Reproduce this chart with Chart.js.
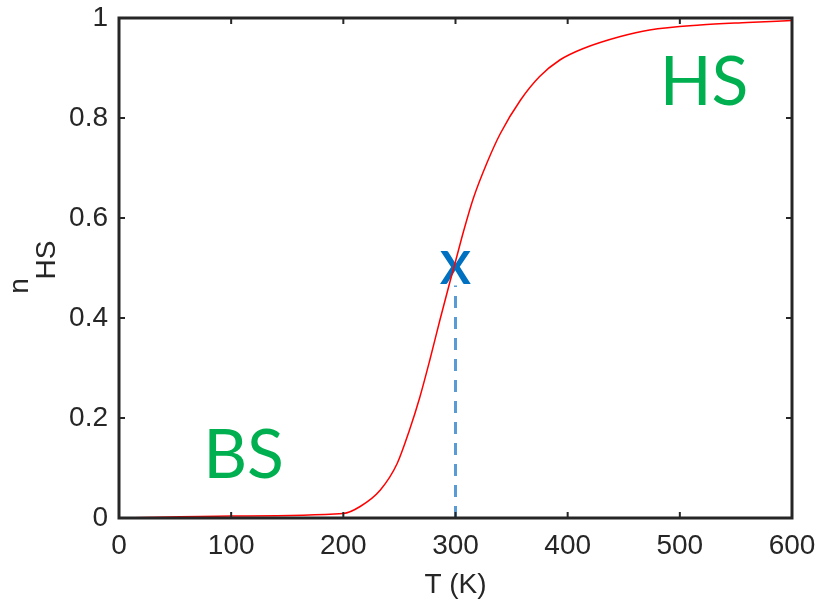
<!DOCTYPE html>
<html>
<head>
<meta charset="utf-8">
<script src="https://cdn.jsdelivr.net/npm/chart.js@4"></script>
<style>
  html, body { margin: 0; padding: 0; background: #fff; }
  #wrap { width: 815px; height: 602px; }
</style>
</head>
<body>
<div id="wrap"><canvas id="graficoNhs" width="815" height="602"></canvas></div>
<script>
// values
const temperaturas = [0, 100, 200, 215, 233, 248, 259, 268, 277, 286, 295, 300, 307, 316, 328, 340, 358, 375, 393, 414, 447, 473, 518, 560, 600];
const fracaoHS = [0, 0.004, 0.009, 0.023, 0.056, 0.109, 0.176, 0.24, 0.315, 0.395, 0.472, 0.513, 0.572, 0.64, 0.71, 0.769, 0.836, 0.883, 0.916, 0.939, 0.963, 0.976, 0.986, 0.991, 0.995];
const tracejadoT = [300, 300];
const tracejadoN = [0, 0.465];
const marcador = { t: 300, n: 0.5, texto: 'X' };
const rotulos = [
    { texto: 'BS', t: 75, n: 0.08 },
    { texto: 'HS', t: 482, n: 0.826 }
];
const tituloX = 'T (K)';
const tituloY = ['n', 'HS'];

const corTexto = '#262626';
const familiaEixo = '"Liberation Sans", Arial, sans-serif';

const moldura = {
    id: 'moldura',
    beforeDatasetsDraw(chart) {
        const c = chart.ctx, x = chart.scales.x, y = chart.scales.y;
        c.save();
        c.fillStyle = '#0070c0';
        c.font = 'bold 46px Lato, "Open Sans", sans-serif';
        c.textAlign = 'center';
        c.textBaseline = 'alphabetic';
        c.fillText(marcador.texto, x.getPixelForValue(marcador.t), y.getPixelForValue(marcador.n) + 16);
        c.restore();
    },
    afterDatasetsDraw(chart) {
        const c = chart.ctx, a = chart.chartArea, x = chart.scales.x, y = chart.scales.y;
        c.save();
        // rotulos BS / HS
        c.fillStyle = '#00b050';
        c.font = '68px Lato, "Open Sans", sans-serif';
        c.textBaseline = 'alphabetic';
        rotulos.forEach(r => c.fillText(r.texto, x.getPixelForValue(r.t), y.getPixelForValue(r.n)));

        // ticks para dentro
        c.strokeStyle = corTexto;
        c.lineWidth = 2;
        c.beginPath();
        x.ticks.forEach(t => {
            const px = x.getPixelForValue(t.value);
            c.moveTo(px, a.bottom); c.lineTo(px, a.bottom - 6);
            c.moveTo(px, a.top); c.lineTo(px, a.top + 6);
        });
        y.ticks.forEach(t => {
            const py = y.getPixelForValue(t.value);
            c.moveTo(a.left, py); c.lineTo(a.left + 6, py);
            c.moveTo(a.right, py); c.lineTo(a.right - 6, py);
        });
        c.stroke();

        // moldura
        c.lineWidth = 3;
        c.strokeRect(a.left, a.top, a.right - a.left, a.bottom - a.top);

        // titulos
        c.fillStyle = corTexto;
        c.font = '28px ' + familiaEixo;
        c.textAlign = 'center';
        c.fillText(tituloX, (a.left + a.right) / 2, 593);
        c.translate(28, 286);
        c.rotate(-Math.PI / 2);
        c.fillText(tituloY[0], 0, 0);
        c.fillText(tituloY[1], 26, 27);
        c.restore();
    }
};

function semPadding(s) {
    s.paddingLeft = 0; s.paddingRight = 0; s.paddingTop = 0; s.paddingBottom = 0;
}

new Chart(document.getElementById('graficoNhs').getContext('2d'), {
    type: 'line',
    data: {
        datasets: [
            {
                data: tracejadoT.map((t, i) => ({ x: t, y: tracejadoN[i] })),
                borderColor: '#5b9bd5',
                borderWidth: 3,
                borderDash: [12, 9],
                pointRadius: 0
            },
            {
                data: temperaturas.map((t, i) => ({ x: t, y: fracaoHS[i] })),
                borderColor: '#ff0000',
                borderWidth: 1.5,
                cubicInterpolationMode: 'monotone',
                pointRadius: 0
            }
        ]
    },
    options: {
        responsive: false,
        animation: false,
        layout: { padding: { top: 18, right: 23, left: 0, bottom: 0 } },
        plugins: { legend: { display: false }, tooltip: { enabled: false } },
        scales: {
            x: {
                type: 'linear', min: 0, max: 600,
                grid: { display: false, drawTicks: false },
                border: { display: false },
                ticks: { stepSize: 100, padding: 11, color: corTexto, font: { family: familiaEixo, size: 28 }, maxRotation: 0 },
                afterFit(s) { s.height = 84; semPadding(s); }
            },
            y: {
                min: 0, max: 1,
                grid: { display: false, drawTicks: false },
                border: { display: false },
                ticks: {
                    stepSize: 0.2, padding: 11, color: corTexto, font: { family: familiaEixo, size: 28 },
                    callback: v => String(Number(v.toFixed(1)))
                },
                afterFit(s) { s.width = 119; semPadding(s); }
            }
        }
    },
    plugins: [moldura]
});
</script>
</body>
</html>
